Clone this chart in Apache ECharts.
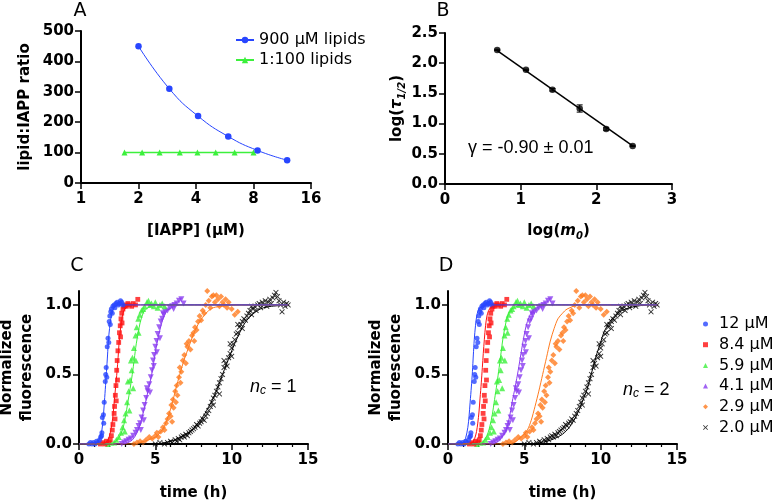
<!DOCTYPE html>
<html><head><meta charset="utf-8">
<script src="https://cdn.jsdelivr.net/npm/echarts@6/dist/echarts.min.js"></script>
<style>html,body{margin:0;padding:0;background:#fff}#c{width:776px;height:503px}</style>
</head><body><div id="c"></div>
<script>
// ---------- Panel A ----------
const iappConc = [2.0, 2.9, 4.1, 5.9, 8.4, 12];
const ratio900 = [450, 310, 220, 153, 107, 75];
const conc100 = [1.69, 2.09, 2.58, 3.29, 4.07, 5.07, 6.37, 8.0];
const ratio100 = [100, 100, 100, 100, 100, 100, 100, 100];
// ---------- Panel B ----------
const logM0 = [0.69, 1.07, 1.42, 1.78, 2.13, 2.48];
const logTau = [2.22, 1.89, 1.56, 1.25, 0.91, 0.63];
const logTauErr = [0.01, 0.01, 0.02, 0.06, 0.02, 0.01];
const fitB = [[0.69, 2.21], [2.48, 0.63]];
// ---------- Panels C/D: shared kinetic data ----------
const concNames = ['12 µM', '8.4 µM', '5.9 µM', '4.1 µM', '2.9 µM', '2.0 µM'];
const pts12 = [[0.65,0.0],[0.75,0.01],[0.85,0.0],[0.95,0.01],[1.05,0.0],[1.15,0.02],[1.25,0.01],[1.35,0.03],[1.42,0.05],[1.48,0.06],[1.5,0.08],[1.53,0.19],[1.6,0.21],[1.62,0.15],[1.65,0.3],[1.72,0.45],[1.75,0.5],[1.78,0.55],[1.82,0.48],[1.85,0.7],[1.9,0.76],[1.95,0.73],[1.98,0.88],[2.02,0.92],[2.05,0.86],[2.08,0.95],[2.12,0.97],[2.18,0.94],[2.22,0.99],[2.3,1.0],[2.35,0.98],[2.42,1.01],[2.5,1.02],[2.58,1.0],[2.65,1.01],[2.72,1.03],[2.8,1.02],[2.88,1.0]];
const pts84 = [[1.4,0.0],[1.55,0.01],[1.7,0.0],[1.8,0.02],[1.95,0.01],[2.05,0.03],[2.12,0.06],[2.18,0.1],[2.22,0.14],[2.3,0.22],[2.33,0.27],[2.36,0.18],[2.38,0.35],[2.42,0.42],[2.44,0.31],[2.47,0.53],[2.5,0.6],[2.52,0.46],[2.55,0.67],[2.6,0.73],[2.65,0.8],[2.7,0.85],[2.72,0.77],[2.75,0.9],[2.8,0.94],[2.82,0.87],[2.88,0.97],[2.95,0.99],[3.0,1.0],[3.1,0.99],[3.2,1.01],[3.3,1.0],[3.45,0.99],[3.55,1.01],[3.7,1.0],[3.85,1.04]];
const pts59 = [[1.9,0.0],[2.1,0.01],[2.3,0.01],[2.45,0.03],[2.6,0.05],[2.75,0.08],[2.85,0.12],[2.95,0.17],[3.0,0.09],[3.05,0.22],[3.15,0.3],[3.2,0.45],[3.25,0.38],[3.3,0.24],[3.35,0.46],[3.4,0.6],[3.45,0.53],[3.5,0.62],[3.55,0.4],[3.6,0.69],[3.7,0.78],[3.72,0.6],[3.78,0.84],[3.88,0.9],[3.9,0.8],[3.98,0.93],[4.1,0.96],[4.2,0.97],[4.3,0.99],[4.45,1.02],[4.55,1.03],[4.65,1.0],[4.75,1.01],[4.9,0.99],[5.0,1.02],[5.15,0.98],[5.3,1.0],[5.45,1.01],[5.6,0.99]];
const pts41 = [[2.8,0.0],[2.95,0.01],[3.1,0.02],[3.25,0.03],[3.4,0.04],[3.55,0.06],[3.7,0.08],[3.8,0.1],[3.9,0.13],[4.0,0.15],[4.05,0.1],[4.1,0.19],[4.2,0.24],[4.25,0.17],[4.3,0.28],[4.4,0.33],[4.45,0.4],[4.5,0.38],[4.6,0.43],[4.65,0.37],[4.7,0.48],[4.78,0.53],[4.85,0.6],[4.9,0.56],[4.92,0.64],[5.0,0.7],[5.08,0.74],[5.1,0.66],[5.15,0.79],[5.25,0.84],[5.3,0.76],[5.35,0.88],[5.45,0.9],[5.5,0.94],[5.55,0.93],[5.65,0.95],[5.8,0.96],[5.95,0.98],[6.1,0.99],[6.2,0.97],[6.25,1.0],[6.4,1.01],[6.55,1.03],[6.7,1.04],[6.85,1.01]];
const pts29 = [[3.6,0.0],[3.8,0.01],[4.0,0.02],[4.2,0.01],[4.4,0.03],[4.6,0.05],[4.8,0.04],[5.0,0.06],[5.1,0.08],[5.2,0.05],[5.35,0.09],[5.5,0.12],[5.6,0.1],[5.7,0.15],[5.8,0.18],[5.9,0.22],[6.0,0.2],[6.05,0.28],[6.1,0.16],[6.15,0.32],[6.2,0.26],[6.3,0.38],[6.35,0.3],[6.4,0.42],[6.45,0.35],[6.55,0.48],[6.6,0.55],[6.65,0.44],[6.7,0.52],[6.8,0.6],[6.9,0.64],[7.0,0.58],[7.05,0.72],[7.1,0.7],[7.2,0.74],[7.3,0.68],[7.4,0.78],[7.5,0.8],[7.55,0.74],[7.6,0.84],[7.7,0.82],[7.8,0.88],[7.9,0.92],[8.0,0.89],[8.1,0.96],[8.2,0.94],[8.3,1.0],[8.4,1.1],[8.5,1.03],[8.6,0.98],[8.7,1.06],[8.8,1.07],[8.9,1.02],[9.0,1.07],[9.1,1.04],[9.2,0.99],[9.3,1.06],[9.4,1.02],[9.5,1.0],[9.6,1.04],[9.7,0.98],[9.8,1.02],[10.0,0.97],[10.2,0.93],[10.4,0.95]];
const pts20 = [[5.0,0.0],[5.3,0.01],[5.6,0.0],[5.8,0.01],[6.0,0.02],[6.1,0.01],[6.3,0.03],[6.4,0.02],[6.5,0.04],[6.6,0.03],[6.7,0.05],[6.8,0.06],[6.9,0.05],[7.0,0.07],[7.1,0.06],[7.2,0.08],[7.3,0.09],[7.4,0.1],[7.5,0.11],[7.6,0.12],[7.7,0.14],[7.8,0.13],[7.9,0.15],[8.0,0.16],[8.1,0.18],[8.2,0.17],[8.3,0.2],[8.4,0.22],[8.5,0.24],[8.6,0.27],[8.7,0.3],[8.8,0.33],[8.8,0.28],[8.9,0.35],[9.0,0.38],[9.1,0.41],[9.2,0.44],[9.2,0.36],[9.3,0.47],[9.4,0.5],[9.5,0.55],[9.5,0.6],[9.6,0.58],[9.7,0.56],[9.8,0.62],[9.9,0.65],[9.9,0.72],[10.0,0.69],[10.0,0.63],[10.1,0.72],[10.2,0.75],[10.3,0.79],[10.4,0.8],[10.4,0.86],[10.5,0.84],[10.6,0.86],[10.7,0.88],[10.7,0.83],[10.8,0.9],[10.9,0.89],[11.0,0.92],[11.1,0.94],[11.2,0.96],[11.3,0.93],[11.3,0.99],[11.4,0.97],[11.5,0.99],[11.6,0.96],[11.7,1.0],[11.8,1.01],[11.9,0.98],[12.0,1.02],[12.1,1.0],[12.2,1.03],[12.3,0.99],[12.4,1.02],[12.5,1.04],[12.6,1.01],[12.7,1.05],[12.8,1.07],[12.9,1.09],[13.0,1.06],[13.1,1.03],[13.2,1.0],[13.3,0.95],[13.4,1.02],[13.5,0.99],[13.6,1.01],[13.7,1.0]];
// fitted curves (nc = 1)
const fitC12 = [[0,0],[1.0,0],[1.2,0.01],[1.35,0.04],[1.5,0.1],[1.58,0.18],[1.65,0.28],[1.72,0.39],[1.8,0.52],[1.87,0.64],[1.93,0.75],[2.0,0.83],[2.08,0.9],[2.18,0.95],[2.3,0.98],[2.6,1],[13.7,1]];
const fitC84 = [[0,0],[1.5,0],[1.75,0.01],[1.9,0.03],[2.05,0.08],[2.15,0.14],[2.24,0.22],[2.32,0.32],[2.4,0.41],[2.49,0.52],[2.56,0.62],[2.62,0.72],[2.7,0.81],[2.78,0.88],[2.88,0.94],[3.0,0.97],[3.4,1],[13.7,1]];
const fitC59 = [[0,0],[2.0,0],[2.3,0.01],[2.5,0.03],[2.7,0.06],[2.9,0.12],[3.05,0.2],[3.2,0.3],[3.35,0.4],[3.49,0.5],[3.62,0.61],[3.75,0.72],[3.88,0.8],[4.0,0.87],[4.2,0.94],[4.4,0.97],[5.0,1],[13.7,1]];
const fitC41 = [[0,0],[2.8,0],[3.2,0.01],[3.5,0.03],[3.75,0.07],[3.95,0.12],[4.15,0.2],[4.3,0.27],[4.5,0.37],[4.76,0.5],[4.93,0.61],[5.1,0.72],[5.3,0.82],[5.5,0.9],[5.7,0.95],[5.9,0.97],[6.6,1],[13.7,1]];
const fitC29 = [[0,0],[3.5,0],[4.3,0.02],[5.0,0.05],[5.3,0.08],[5.6,0.13],[5.85,0.2],[6.1,0.29],[6.35,0.4],[6.6,0.5],[6.9,0.61],[7.2,0.7],[7.5,0.79],[7.8,0.86],[8.1,0.91],[8.4,0.95],[8.8,0.98],[9.4,0.99],[10.5,1],[13.7,1]];
const fitC20 = [[0,0],[5.0,0],[6.0,0.02],[6.5,0.04],[7.0,0.07],[7.4,0.1],[7.8,0.15],[8.2,0.21],[8.5,0.27],[8.8,0.33],[9.1,0.41],[9.4,0.5],[9.65,0.57],[9.9,0.64],[10.15,0.71],[10.4,0.77],[10.7,0.84],[11.0,0.89],[11.35,0.93],[11.7,0.96],[12.1,0.98],[12.6,0.99],[13.7,1]];
// fitted curves (nc = 2)
const fitD12 = [[0,0],[0.8,0],[1.0,0.01],[1.15,0.04],[1.3,0.12],[1.38,0.2],[1.45,0.3],[1.53,0.41],[1.6,0.52],[1.66,0.64],[1.72,0.75],[1.8,0.85],[1.88,0.92],[1.98,0.96],[2.1,0.98],[2.5,1],[13.7,1]];
const fitD84 = [[0,0],[1.4,0],[1.6,0.01],[1.75,0.04],[1.87,0.09],[1.95,0.15],[2.03,0.23],[2.1,0.33],[2.18,0.44],[2.25,0.55],[2.31,0.65],[2.38,0.75],[2.46,0.85],[2.55,0.92],[2.66,0.96],[2.8,0.98],[3.2,1],[13.7,1]];
const fitD59 = [[0,0],[2.0,0],[2.25,0.01],[2.45,0.04],[2.62,0.08],[2.75,0.13],[2.9,0.21],[3.05,0.32],[3.2,0.43],[3.35,0.55],[3.48,0.66],[3.6,0.76],[3.75,0.85],[3.9,0.92],[4.1,0.96],[4.3,0.98],[4.9,1],[13.7,1]];
const fitD41 = [[0,0],[2.8,0],[3.15,0.01],[3.4,0.03],[3.6,0.06],[3.8,0.1],[4.0,0.18],[4.2,0.3],[4.4,0.41],[4.6,0.53],[4.78,0.65],[4.95,0.76],[5.12,0.85],[5.3,0.91],[5.55,0.96],[5.8,0.98],[6.5,1],[13.7,1]];
const fitD29 = [[0,0],[3.8,0],[4.3,0.01],[4.6,0.03],[4.9,0.06],[5.2,0.1],[5.45,0.17],[5.7,0.27],[5.95,0.38],[6.2,0.5],[6.45,0.62],[6.7,0.74],[6.95,0.83],[7.2,0.9],[7.5,0.94],[7.8,0.97],[8.6,1],[13.7,1]];
const fitD20 = [[0,0],[5.5,0],[6.0,0.01],[6.5,0.02],[7.0,0.04],[7.5,0.07],[7.95,0.12],[8.4,0.2],[8.75,0.29],[9.1,0.39],[9.3,0.47],[9.5,0.55],[9.75,0.65],[10.0,0.73],[10.2,0.8],[10.6,0.88],[11.0,0.93],[11.4,0.96],[11.9,0.98],[12.6,0.995],[13.7,1]];

const ptsAll = [pts12, pts84, pts59, pts41, pts29, pts20];
const fitsC = [fitC12, fitC84, fitC59, fitC41, fitC29, fitC20];
const fitsD = [fitD12, fitD84, fitD59, fitD41, fitD29, fitD20];

const colors = ['#2846ff', '#ff1010', '#3cf03c', '#8a3cf0', '#ff7a1e', '#000000'];
const xShape = 'path://M0,1.2L1.2,0L5,3.8L8.8,0L10,1.2L6.2,5L10,8.8L8.8,10L5,6.2L1.2,10L0,8.8L3.8,5Z';
const symbols = ['circle', 'rect', 'triangle', 'triangle', 'diamond', xShape];
const symRot = [0, 0, 0, 180, 0, 0];
const symSize = [5, 4.8, 6, 6, 6, 5.5];

const FONT = 'DejaVu Sans';
const tickLabel = { color: '#000', fontFamily: FONT, fontWeight: 'bold', fontSize: 15 };
const titleStyle = { color: '#000', fontFamily: FONT, fontWeight: 'bold', fontSize: 15, lineHeight: 20 };

function mkAxis(o) {
  return {
    gridIndex: o.grid, type: o.type || 'value', min: o.min, max: o.max, interval: o.interval,
    logBase: o.logBase,
    name: o.name, nameLocation: 'middle', nameGap: o.nameGap,
    nameTextStyle: Object.assign({}, titleStyle, { rich: o.rich || {} }),
    axisLine: { show: true, onZero: false, lineStyle: { color: '#000', width: 2 } },
    axisTick: Object.assign({ show: true, inside: false, length: 6, lineStyle: { color: '#000', width: 1.5 } }, o.tickExtra || {}),
    minorTick: o.minor ? { show: true, splitNumber: 5, length: 3, lineStyle: { color: '#000', width: 1.2 } } : { show: false },
    axisLabel: Object.assign({ margin: o.margin || 9 }, tickLabel, o.labelExtra || {}),
    splitLine: { show: false }, minorSplitLine: { show: false }
  };
}

const richB = {
  b: { fontFamily: FONT, fontWeight: 'bold', fontSize: 15, lineHeight: 20 },
  bi: { fontFamily: FONT, fontWeight: 'bold', fontStyle: 'italic', fontSize: 15, lineHeight: 20 },
  sub: { fontFamily: FONT, fontWeight: 'bold', fontStyle: 'italic', fontSize: 10, lineHeight: 10, verticalAlign: 'bottom' }
};

const fmt1 = v => v.toFixed(1);

const grids = [
  { left: 81, top: 31, width: 230, height: 152 },
  { left: 445, top: 33, width: 227, height: 151 },
  { left: 79, top: 291, width: 229, height: 153 },
  { left: 448, top: 291, width: 229, height: 153 }
].map(g => Object.assign({ containLabel: false, outerBoundsMode: 'none' }, g));

const xAxes = [
  mkAxis({ grid: 0, type: 'log', logBase: 2, min: 1, max: 16, name: '[IAPP] (µM)', nameGap: 38 }),
  mkAxis({ grid: 1, min: 0, max: 3, interval: 1, name: '{b|log(}{bi|m}{sub|0}{b|)}', rich: richB, nameGap: 37 }),
  mkAxis({ grid: 2, min: 0, max: 15, interval: 5, minor: true, name: 'time (h)', nameGap: 39 }),
  mkAxis({ grid: 3, min: 0, max: 15, interval: 5, minor: true, name: 'time (h)', nameGap: 39 })
];
const yAxes = [
  mkAxis({ grid: 0, min: 0, max: 500, interval: 100, name: 'lipid:IAPP ratio', nameGap: 46, margin: 7 }),
  mkAxis({ grid: 1, min: 0, max: 2.5, interval: 0.5, name: '{b|log(}{bi|τ}{sub|1/2}{b|)}', rich: richB, nameGap: 35, margin: 7, labelExtra: { formatter: fmt1 } }),
  mkAxis({ grid: 2, min: 0, max: 1.1, interval: 0.5, name: 'Normalized\nfluorescence', nameGap: 42, margin: 7,
    labelExtra: { formatter: fmt1, customValues: [0, 0.5, 1] }, tickExtra: { customValues: [0, 0.5, 1] } }),
  mkAxis({ grid: 3, min: 0, max: 1.1, interval: 0.5, name: 'Normalized\nfluorescence', nameGap: 42, margin: 7,
    labelExtra: { formatter: fmt1, customValues: [0, 0.5, 1] }, tickExtra: { customValues: [0, 0.5, 1] } })
];

const series = [];
// Panel A
series.push({ name: '1:100 lipids', type: 'line', xAxisIndex: 0, yAxisIndex: 0,
  data: conc100.map((c, i) => [c, ratio100[i]]), symbol: 'triangle', symbolSize: 6,
  itemStyle: { color: '#3cf03c' }, lineStyle: { color: '#3cf03c', width: 1.5 } });
series.push({ name: '900 µM lipids', type: 'line', xAxisIndex: 0, yAxisIndex: 0, smooth: true,
  data: iappConc.map((c, i) => [c, ratio900[i]]), symbol: 'circle', symbolSize: 6.5,
  itemStyle: { color: '#2846ff' }, lineStyle: { color: '#2846ff', width: 1 } });
// Panel B
series.push({ name: 'fitB', type: 'line', xAxisIndex: 1, yAxisIndex: 1, data: fitB, showSymbol: false,
  lineStyle: { color: '#000', width: 1.5 }, z: 2 });
series.push({ name: 'errB', type: 'custom', xAxisIndex: 1, yAxisIndex: 1, z: 2,
  data: logM0.map((x, i) => [x, logTau[i] - logTauErr[i], logTau[i] + logTauErr[i]]),
  encode: { x: 0, y: [1, 2] },
  renderItem: function (params, api) {
    const x = api.value(0);
    const lo = api.coord([x, api.value(1)]);
    const hi = api.coord([x, api.value(2)]);
    const w = 3;
    const st = { stroke: '#000', lineWidth: 1 };
    return { type: 'group', children: [
      { type: 'line', shape: { x1: lo[0], y1: lo[1], x2: hi[0], y2: hi[1] }, style: st },
      { type: 'line', shape: { x1: lo[0] - w, y1: lo[1], x2: lo[0] + w, y2: lo[1] }, style: st },
      { type: 'line', shape: { x1: hi[0] - w, y1: hi[1], x2: hi[0] + w, y2: hi[1] }, style: st }
    ] };
  } });
series.push({ name: 'dataB', type: 'scatter', xAxisIndex: 1, yAxisIndex: 1, z: 3,
  data: logM0.map((x, i) => [x, logTau[i]]), symbol: 'circle', symbolSize: 6.5, itemStyle: { color: '#000' } });
// Panels C & D (draw 2.0 µM first so 12 µM sits on top)
[2, 3].forEach(gi => {
  const fits = gi === 2 ? fitsC : fitsD;
  for (let k = 5; k >= 0; k--) {
    series.push({ name: concNames[k], type: 'scatter', xAxisIndex: gi, yAxisIndex: gi,
      data: ptsAll[k], symbol: symbols[k], symbolRotate: symRot[k], symbolSize: symSize[k],
      itemStyle: { color: colors[k] } });
    series.push({ name: 'fit ' + concNames[k], type: 'line', xAxisIndex: gi, yAxisIndex: gi,
      data: fits[k], smooth: 0.3, showSymbol: false, symbol: 'none',
      lineStyle: { color: colors[k], width: 1 } });
  }
});

const letterStyle = { fontFamily: 'DejaVu Sans', fontSize: 19, fill: '#000', textAlign: 'center', textVerticalAlign: 'middle' };
const richN = {
  i: { fontFamily: 'Liberation Sans', fontStyle: 'italic', fontSize: 18, lineHeight: 20 },
  s: { fontFamily: 'Liberation Sans', fontStyle: 'italic', fontSize: 12, lineHeight: 12, verticalAlign: 'bottom' },
  r: { fontFamily: 'Liberation Sans', fontSize: 18, lineHeight: 20 }
};

const option = {
  animation: false,
  backgroundColor: '#fff',
  grid: grids,
  xAxis: xAxes,
  yAxis: yAxes,
  legend: [
    { data: ['900 µM lipids', '1:100 lipids'], orient: 'vertical', left: 230, top: 27,
      itemWidth: 18, itemHeight: 8, itemGap: 4,
      textStyle: { fontFamily: FONT, fontSize: 16, color: '#000', lineHeight: 16 } },
    { data: concNames, orient: 'vertical', left: 698, top: 311, itemWidth: 5, itemHeight: 5, itemGap: 4.7,
      textStyle: { fontFamily: FONT, fontSize: 16, color: '#000', lineHeight: 16, padding: [0, 0, 0, 6] } }
  ],
  graphic: [
    { type: 'text', x: 80, y: 11, style: Object.assign({ text: 'A' }, letterStyle) },
    { type: 'text', x: 443, y: 11, style: Object.assign({ text: 'B' }, letterStyle) },
    { type: 'text', x: 77, y: 266, style: Object.assign({ text: 'C' }, letterStyle) },
    { type: 'text', x: 446, y: 266, style: Object.assign({ text: 'D' }, letterStyle) },
    { type: 'text', x: 468, y: 148, style: { text: 'γ = -0.90 ± 0.01', fontFamily: 'Liberation Sans', fontSize: 18, fill: '#000', textVerticalAlign: 'middle' } },
    { type: 'text', x: 250, y: 387, style: { text: '{i|n}{s|c}{r| = 1}', rich: richN, textVerticalAlign: 'middle' } },
    { type: 'text', x: 623, y: 390, style: { text: '{i|n}{s|c}{r| = 2}', rich: richN, textVerticalAlign: 'middle' } }
  ],
  series: series
};

const chart = echarts.init(document.getElementById('c'), null, { renderer: 'canvas' });
chart.setOption(option);
</script>
</body></html>
